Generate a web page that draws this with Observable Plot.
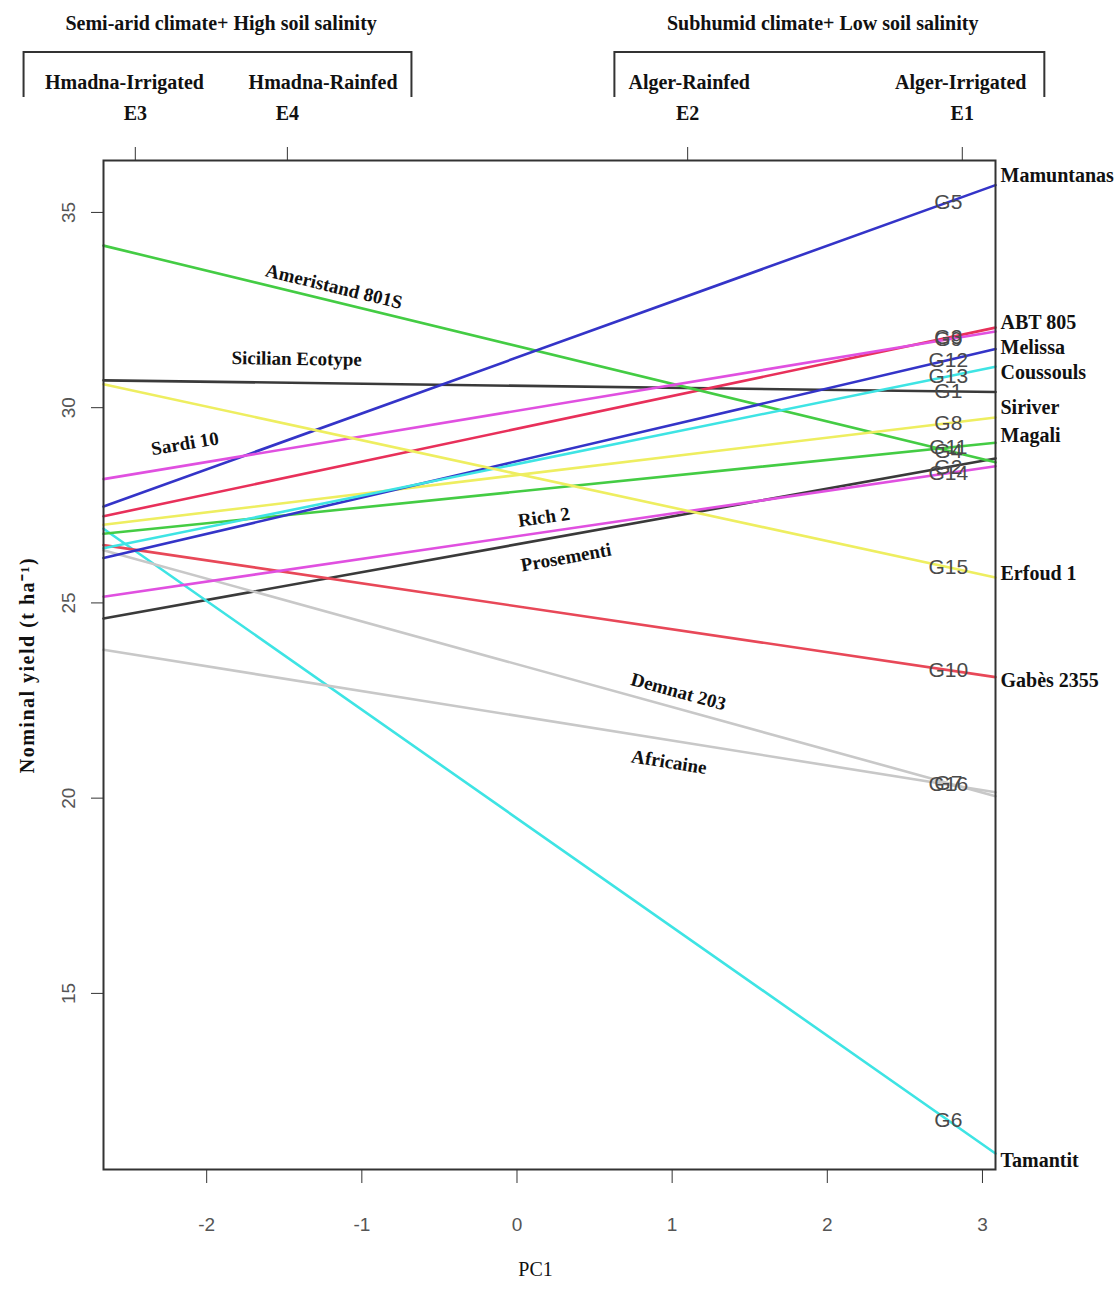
<!DOCTYPE html>
<html><head><meta charset="utf-8">
<script src="https://cdn.jsdelivr.net/npm/d3@7"></script>
<script src="https://cdn.jsdelivr.net/npm/@observablehq/plot@0.6"></script>
<style>
body{margin:0;background:#fff;}
#chart svg{display:block;}
</style></head><body><div id="chart"></div>
<script>
// ---- data ----
const codes = ["G1","G2","G3","G4","G5","G6","G7","G8","G9","G10","G11","G12","G13","G14","G15","G16"];
const genotypes = ["Sicilian Ecotype","Prosementi","ABT 805","Ameristand 801S","Mamuntanas","Tamantit","Demnat 203","Siriver","Sardi 10","Gabès 2355","Magali","Melissa","Coussouls","Rich 2","Erfoud 1","Africaine"];
// nominal yield at the left (PC1 = -2.665) and right (PC1 = 3.084) edges of the plot
const yieldLeft  = [30.7, 24.6, 27.22, 34.15, 27.47, 26.9, 26.35, 27.0, 28.17, 26.48, 26.77, 26.15, 26.4, 25.16, 30.6, 23.8];
const yieldRight = [30.4, 28.7, 32.05, 28.6, 35.7, 10.9, 20.05, 29.75, 31.95, 23.1, 29.1, 31.5, 31.05, 28.5, 25.65, 20.15];
const colors = ["#3a3a3a","#3a3a3a","#e8305a","#44cc44","#3434c8","#3ee4e4","#c8c8c8","#eeee60","#e050e0","#e84858","#44cc44","#3434c8","#3ee4e4","#e050e0","#eeee60","#c8c8c8"];

const pcRange = [-2.665, 3.084];
const yieldRange = [10.49, 36.33];
const xTicks = [-2, -1, 0, 1, 2, 3];
const yTicks = [15, 20, 25, 30, 35];

const gLabelX = 2.78;

// genotype names written at the right edge
const rightNames = ["Mamuntanas","ABT 805","Melissa","Coussouls","Siriver","Magali","Erfoud 1","Gabès 2355","Tamantit"];
const rightNameY = [35.95, 32.19, 31.55, 30.91, 29.99, 29.29, 25.75, 23.01, 10.72];

// genotype names written along their lines
const insideNames = ["Ameristand 801S","Sicilian Ecotype","Sardi 10","Rich 2","Prosementi","Demnat 203","Africaine"];
const insideX = [-1.18, -1.42, -2.14, 0.174, 0.316, 1.04, 0.98];
const insideDyPx = [-15, -24, -22, -15, 22, -17, 22];

// environments (top axis)
const envCodes = ["E3","E4","E2","E1"];
const envPC1 = [-2.46, -1.48, 1.10, 2.87];
const envNames = ["Hmadna-Irrigated","Hmadna-Rainfed","Alger-Rainfed","Alger-Irrigated"];
const envNameX = [-2.53, -1.25, 1.11, 2.86];
const groupTitles = ["Semi-arid climate+ High soil salinity","Subhumid climate+ Low soil salinity"];
const groupX = [-1.907, 1.97];
const bracketStart = [-3.177, 0.631];
const bracketEnd = [-0.677, 3.402];

// ---- layout ----
const W = 1119, H = 1292, mL = 103, mR = 124, mT = 160, mB = 123;
const kX = (W - mL - mR) / (pcRange[1] - pcRange[0]);
const kY = (H - mT - mB) / (yieldRange[1] - yieldRange[0]);
const idx = name => genotypes.indexOf(name);
const at = (i, x) => yieldLeft[i] + (yieldRight[i] - yieldLeft[i]) * (x - pcRange[0]) / (pcRange[1] - pcRange[0]);
const angle = i => -Math.atan((yieldRight[i] - yieldLeft[i]) * kY / ((pcRange[1] - pcRange[0]) * kX)) * 180 / Math.PI;

const lineData = codes.flatMap((c, i) => [
  {code: c, pc: pcRange[0], y: yieldLeft[i], color: colors[i]},
  {code: c, pc: pcRange[1], y: yieldRight[i], color: colors[i]}
]);

const serif = "Liberation Serif, Times New Roman, serif";
const sans = "Liberation Sans, Arial, sans-serif";

const chart = Plot.plot({
  width: W, height: H,
  marginLeft: mL, marginRight: mR, marginTop: mT, marginBottom: mB,
  style: {background: "#fff", overflow: "visible"},
  x: {domain: pcRange},
  y: {domain: yieldRange},
  color: {type: "identity"},
  marks: [
    Plot.line(lineData, {x: "pc", y: "y", z: "code", stroke: "color", strokeWidth: 2.6}),
    Plot.text(codes, {x: () => gLabelX, y: (d, i) => at(i, gLabelX), text: d => d,
      fill: "#4a4a4a", fontSize: 21, fontFamily: sans}),
    Plot.text(insideNames, {
      x: (d, i) => insideX[i],
      y: (d, i) => at(idx(d), insideX[i]) - insideDyPx[i] / kY,
      rotate: (d) => angle(idx(d)),
      text: d => d, fontFamily: serif, fontWeight: "bold", fontSize: 19, fill: "#111"}),
    Plot.text(rightNames, {x: () => pcRange[1], y: (d, i) => rightNameY[i], text: d => d,
      textAnchor: "start", dx: 5, fontFamily: serif, fontWeight: "bold", fontSize: 20, fill: "#111"}),
    Plot.frame({stroke: "#333", strokeWidth: 2}),
    Plot.axisY(yTicks, {tickSize: 12, tickFormat: () => "", label: null, stroke: "#333"}),
    Plot.text(yTicks, {y: d => d, frameAnchor: "left", textAnchor: "middle", dx: -35, rotate: -90, text: d => String(d),
      fontSize: 19, fill: "#555", fontFamily: sans}),
    Plot.axisX(xTicks, {anchor: "bottom", tickSize: 14, tickPadding: 34, tickFormat: d => String(d),
      fontSize: 19, fill: "#555", stroke: "#333", fontFamily: sans, label: null}),
    Plot.axisX(envPC1, {anchor: "top", tickSize: 14, tickPadding: 27,
      tickFormat: d => envCodes[envPC1.indexOf(d)],
      fontSize: 20, fontWeight: "bold", fill: "#111", stroke: "#333", fontFamily: serif, label: null}),
    Plot.text(envNames, {x: (d, i) => envNameX[i], frameAnchor: "top", dy: -86, text: d => d,
      fontFamily: serif, fontWeight: "bold", fontSize: 20, fill: "#111"}),
    Plot.text(groupTitles, {x: (d, i) => groupX[i], frameAnchor: "top", dy: -145, text: d => d,
      fontFamily: serif, fontWeight: "bold", fontSize: 20, fill: "#111"}),
    Plot.text(["Nominal yield (t ha\u207B\u00B9)"], {frameAnchor: "left", textAnchor: "middle", dx: -76, rotate: -90, text: d => d,
      fontFamily: serif, fontWeight: "bold", fontSize: 20, fill: "#111"}),
    Plot.text(["PC1"], {frameAnchor: "bottom", dy: 106, dx: -14, text: d => d,
      fontFamily: serif, fontSize: 20, fill: "#111"})
  ]
});

// brackets grouping the environments
const sx = chart.scale("x");
const g = d3.select(chart).append("g").attr("fill", "none").attr("stroke", "#333").attr("stroke-width", 2);
bracketStart.forEach((b, i) => {
  const x1 = sx.apply(b), x2 = sx.apply(bracketEnd[i]);
  g.append("path").attr("d", `M${x1},97V52H${x2}V97`);
});
d3.select(chart).selectAll("text").filter(function(){ return this.textContent.startsWith("Nominal"); })
  .attr("letter-spacing", "1.5px");

document.getElementById("chart").append(chart);
</script>
</body></html>
